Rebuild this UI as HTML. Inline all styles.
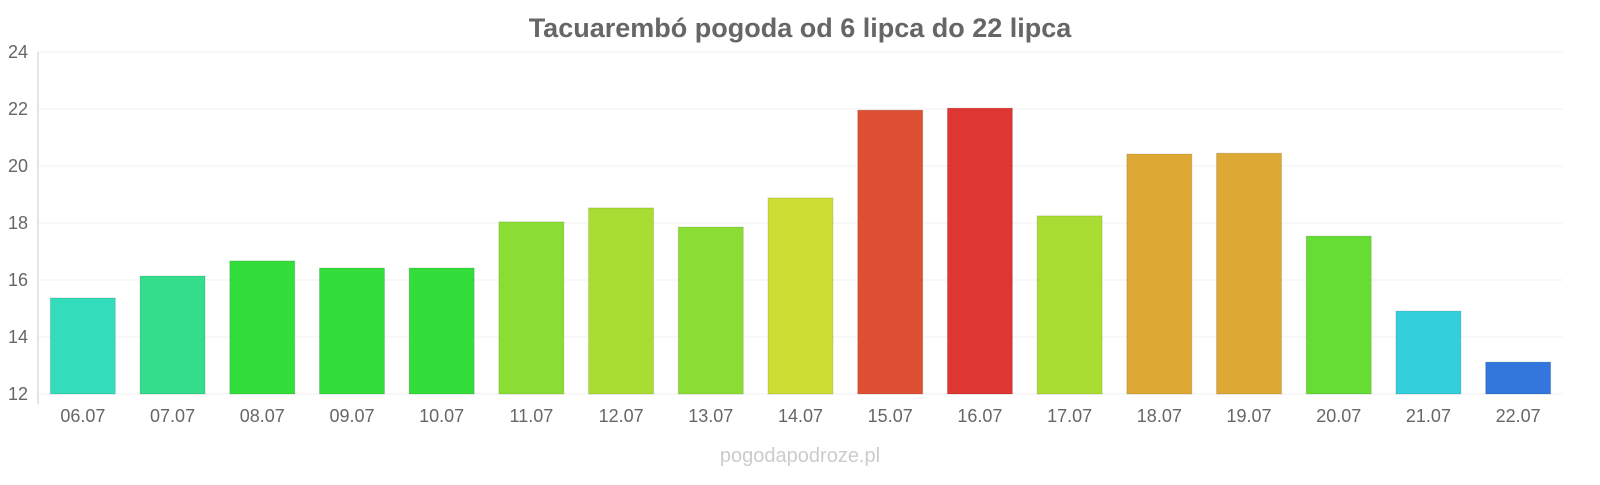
<!DOCTYPE html>
<html><head><meta charset="utf-8"><style>
body{margin:0;background:#fff;font-family:"Liberation Sans",sans-serif}
</style></head><body>
<svg id="c" width="1600" height="480" xmlns="http://www.w3.org/2000/svg">
<text x="800" y="37" text-anchor="middle" font-size="27" font-weight="bold" fill="#666">Tacuarembó pogoda od 6 lipca do 22 lipca</text>
<text x="800" y="462" text-anchor="middle" font-size="20" fill="#ccc">pogodapodroze.pl</text>
<g id="grid"></g><g id="bars"></g><g id="xl"></g>
</svg>
<script>
const categories=["06.07","07.07","08.07","09.07","10.07","11.07","12.07","13.07","14.07","15.07","16.07","17.07","18.07","19.07","20.07","21.07","22.07"];
const temps=[15.37,16.14,16.67,16.42,16.42,18.04,18.53,17.86,18.88,21.96,22.03,18.25,20.42,20.45,17.54,14.91,13.12];
const colors=["#33ddbb","#33dd8c","#33dd3a","#33dd3a","#33dd3a","#8cdd33","#aadd33","#8cdd33","#cddd33","#dd5033","#dd3633","#aadd33","#dda833","#dda833","#66dd33","#33cfdd","#3377dd"];
const yTicks=[12,14,16,18,20,22,24];
const svg=document.getElementById('c');const NS="http://www.w3.org/2000/svg";
const x0=38,x1=1563,yTop=52,yBot=394,yMin=12,yMax=24;
const y=v=>yBot-(v-yMin)/(yMax-yMin)*(yBot-yTop);
const bw=(x1-x0)/categories.length;
const g=document.getElementById('grid'),b=document.getElementById('bars'),xl=document.getElementById('xl');
function mk(t,a,p){const e=document.createElementNS(NS,t);for(const k in a)e.setAttribute(k,a[k]);p.appendChild(e);return e;}
yTicks.forEach(t=>{
 const l=mk('line',{x1:x0,x2:x1,y1:y(t),y2:y(t),stroke:'#f0f0f0'},g);
 
 
 const tx=mk('text',{x:28,y:y(t)+6,'text-anchor':'end','font-size':18,fill:'#666'},g);tx.textContent=t;
 
 
});
const ax=mk('line',{x1:x0,x2:x0,y1:yTop,y2:yBot+10,stroke:'#ccc'},g);


categories.forEach((c,i)=>{
 const cx=x0+bw*(i+0.5);
 const r=mk('rect',{x:cx-32.5,y:y(temps[i]),width:65,height:yBot-y(temps[i]),fill:colors[i],stroke:'rgba(0,0,0,0.12)'},b);
 
 
 const t=mk('text',{x:cx,y:422,'text-anchor':'middle','font-size':18,fill:'#666'},xl);t.textContent=c;
 
 
});
</script>
</body></html>
